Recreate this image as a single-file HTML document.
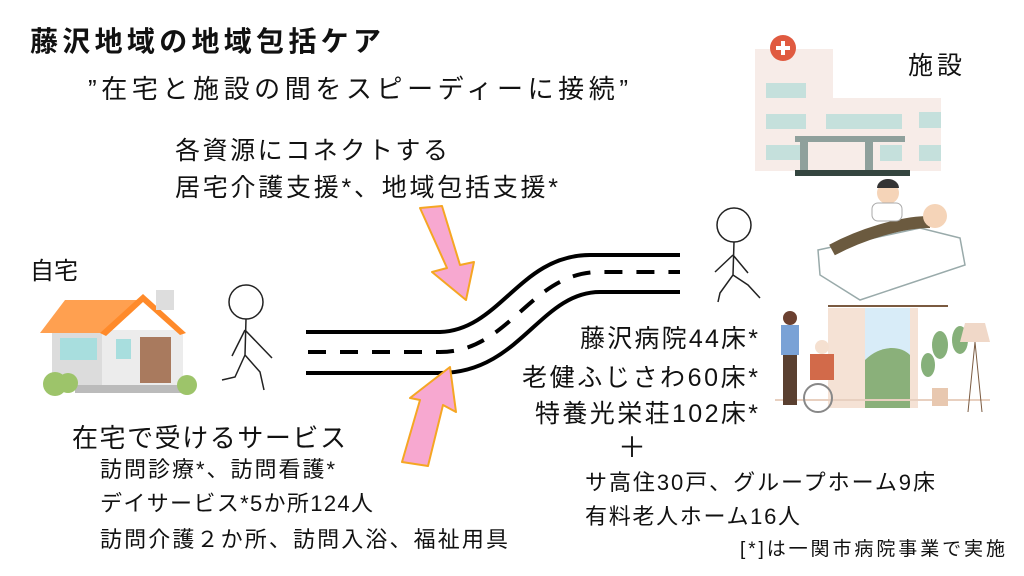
<!DOCTYPE html><html><head><meta charset="utf-8"><style>body{margin:0;background:#fff}svg{display:block}text{font-family:"Liberation Sans","Noto Sans CJK JP",sans-serif;fill:#111}</style></head><body>
<svg width="1024" height="576" viewBox="0 0 1024 576" xmlns="http://www.w3.org/2000/svg">
<text x="30" y="51" font-size="28" font-weight="bold" textLength="351">藤沢地域の地域包括ケア</text>
<text x="88" y="98" font-size="26" textLength="540">”在宅と施設の間をスピーディーに接続”</text>
<text x="175" y="159" font-size="25" textLength="273">各資源にコネクトする</text>
<text x="175" y="196" font-size="25" textLength="383">居宅介護支援*、地域包括支援*</text>
<text x="30" y="279" font-size="24" textLength="48">自宅</text>
<text x="908" y="74" font-size="25" textLength="54">施設</text>
<!-- house -->
<rect x="88" y="330" width="95" height="55" fill="#ececec"/>
<rect x="52" y="330" width="50" height="55" fill="#dcdcdc"/>
<polygon points="40,333 65,300 140,300 102,333" fill="#ffa050"/>
<polygon points="100,333 143,294 186,333 180,335 143,302 106,336" fill="#ff8a2a"/>
<rect x="156" y="290" width="18" height="20" fill="#ddd"/>
<rect x="60" y="338" width="37" height="22" fill="#a8dede"/>
<rect x="116" y="339" width="15" height="20" fill="#a8dede"/>
<rect x="140" y="337" width="31" height="46" fill="#a97a5e"/>
<rect x="75" y="385" width="110" height="8" fill="#bbb"/>
<circle cx="55" cy="384" r="12" fill="#9dc46a"/><circle cx="68" cy="383" r="10" fill="#9dc46a"/><circle cx="187" cy="385" r="10" fill="#9dc46a"/>
<!-- stick figures -->
<g fill="none" stroke="#222" stroke-width="1.5">
<circle cx="246" cy="302" r="17"/><path d="M246 319 L245 355 L235 377 L222 380 M245 355 L260 372 L264 390 M245 330 L232 356 M245 330 L272 358"/>
<circle cx="734" cy="225" r="17"/><path d="M734 242 L733 275 L720 293 L718 302 M733 275 L748 285 L760 298 M733 255 L715 272 M733 255 L748 273"/>
</g>
<!-- road -->
<g fill="none" stroke="#000" stroke-width="4">
<path d="M306 332 L440 332 C500 330 520 255 590 255 L680 255"/>
<path d="M306 373 L440 373 C520 373 540 292 600 292 L680 292"/>
<path d="M308 352 L440 352 C510 352 530 272 600 272 L680 272" stroke-dasharray="18 14"/>
</g>
<!-- pink arrows -->
<g fill="#f7a8d0" stroke="#f5a623" stroke-width="2" stroke-linejoin="round">
<polygon points="420,208 442,206 460,265 474,262 466,300 432,272 447,268"/>
<polygon points="402,462 420,400 410,398 450,367 456,412 443,405 428,466"/>
</g>
<!-- hospital -->
<rect x="755" y="49" width="78" height="122" fill="#f7ece8"/>
<rect x="817" y="98" width="124" height="73" fill="#f7ece8"/>
<circle cx="783" cy="48" r="13" fill="#e05a40"/><path d="M783 41v14M776 48h14" stroke="#fff" stroke-width="4"/>
<g fill="#c5e0dc"><rect x="766" y="83" width="40" height="15"/><rect x="766" y="114" width="40" height="15"/><rect x="766" y="145" width="40" height="15"/><rect x="826" y="114" width="76" height="15"/><rect x="919" y="112" width="22" height="16"/><rect x="919" y="145" width="22" height="16"/><rect x="880" y="145" width="22" height="16"/></g>
<rect x="795" y="136" width="110" height="6" fill="#8fa09c"/><rect x="800" y="142" width="8" height="30" fill="#8fa09c"/><rect x="865" y="142" width="8" height="30" fill="#8fa09c"/>
<rect x="795" y="170" width="115" height="6" fill="#34453f"/>
<!-- bed scene -->
<polygon points="818,250 920,228 960,238 965,265 860,300 820,275" fill="#fff" stroke="#9aa" stroke-width="1.5"/>
<path d="M832 250 C860 235 900 222 930 222" stroke="#6b5a3f" stroke-width="12" fill="none"/>
<circle cx="935" cy="216" r="12" fill="#f5d4b8"/><circle cx="888" cy="193" r="11" fill="#f5d4b8"/><path d="M877 188 a11 9 0 0 1 22 0" fill="#333"/>
<rect x="872" y="203" width="30" height="18" rx="6" fill="#fff" stroke="#aaa"/>
<!-- room -->
<rect x="828" y="308" width="90" height="100" fill="#f5e2d5"/><rect x="865" y="308" width="45" height="100" fill="#d8ecf8"/>
<path d="M865 360 C880 345 900 345 910 355 L910 408 L865 408Z" fill="#8ab07a"/>
<line x1="828" y1="306" x2="948" y2="306" stroke="#7a5a40" stroke-width="2"/>
<line x1="775" y1="400" x2="990" y2="400" stroke="#e8d0c0" stroke-width="2"/>
<g fill="#86b07a"><ellipse cx="940" cy="345" rx="8" ry="14"/><ellipse cx="960" cy="340" rx="8" ry="14"/><ellipse cx="928" cy="365" rx="7" ry="12"/></g>
<rect x="932" y="388" width="16" height="18" fill="#e8c8b0"/>
<polygon points="965,323 985,323 990,342 960,342" fill="#f0d8c8"/><path d="M975 342 L968 412 M975 342 L982 412" stroke="#7a5a40"/>
<circle cx="790" cy="318" r="7" fill="#6b4030"/><rect x="781" y="325" width="18" height="30" fill="#7aa2d6"/><rect x="783" y="355" width="14" height="50" fill="#5a4030"/>
<circle cx="822" cy="347" r="7" fill="#f5e0d0"/><rect x="810" y="354" width="24" height="26" fill="#d26a4a"/>
<circle cx="818" cy="398" r="14" fill="none" stroke="#888" stroke-width="2"/>
<!-- right texts -->
<g font-size="25"><text x="580" y="347" textLength="178">藤沢病院44床*</text><text x="522" y="386" textLength="236">老健ふじさわ60床*</text><text x="535" y="422" textLength="223">特養光栄荘102床*</text></g>
<text x="618" y="457" font-size="28">＋</text>
<text x="585" y="490" font-size="22" textLength="350">サ高住30戸、グループホーム9床</text>
<text x="585" y="524" font-size="22" textLength="215">有料老人ホーム16人</text>
<text x="740" y="555" font-size="19" textLength="265">[*]は一関市病院事業で実施</text>
<text x="72" y="447" font-size="26" textLength="274">在宅で受けるサービス</text>
<g font-size="22"><text x="100" y="477" textLength="235">訪問診療*、訪問看護*</text><text x="100" y="511" textLength="273">デイサービス*5か所124人</text><text x="100" y="547" textLength="408">訪問介護２か所、訪問入浴、福祉用具</text></g>
</svg></body></html>
